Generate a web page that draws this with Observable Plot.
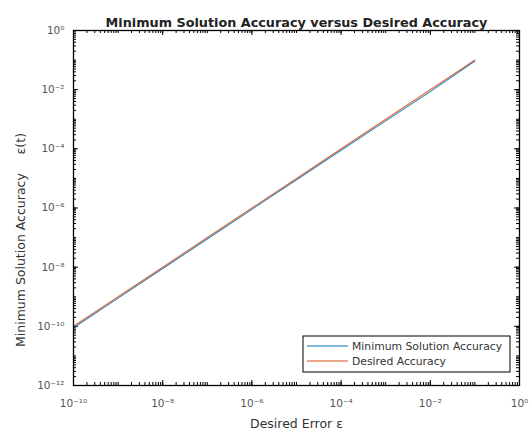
<!DOCTYPE html>
<html>
<head>
<meta charset="utf-8">
<script src="https://cdn.jsdelivr.net/npm/d3@7"></script>
<script src="https://cdn.jsdelivr.net/npm/@observablehq/plot@0.6"></script>
<style>
  body { margin: 0; background: #fff; font-family: "DejaVu Sans", sans-serif; }
</style>
</head>
<body>
<div id="chart"></div>
<script>
// Desired error ε (x) and the two accuracy series (y), one point per decade
const desiredError = [1e-10, 1e-9, 1e-8, 1e-7, 1e-6, 1e-5, 1e-4, 1e-3, 1e-2, 1e-1];
const desiredAccuracy = [1e-10, 1e-9, 1e-8, 1e-7, 1e-6, 1e-5, 1e-4, 1e-3, 1e-2, 1e-1];
const minimumAccuracy = [9.0e-11, 9.0e-10, 9.0e-9, 9.0e-8, 9.0e-7, 9.0e-6, 8.9e-5, 8.8e-4, 8.6e-3, 9.3e-2];

const seriesNames = ["Minimum Solution Accuracy", "Desired Accuracy"];
const seriesColors = ["#0072BD", "#D95319"];

const xTickExps = [-10, -8, -6, -4, -2, 0];
const yTickExps = [-12, -10, -8, -6, -4, -2, 0];

const titleText = "Minimum Solution Accuracy versus Desired Accuracy";
const xLabel = "Desired Error ε";
const yLabel = "Minimum Solution Accuracy\u2003\u2002ε(t)";

const superscript = s => String(s).replace(/-/g, "⁻").replace(/\d/g, d => "⁰¹²³⁴⁵⁶⁷⁸⁹"[d]);
const fmt = v => "10" + superscript(Math.round(Math.log10(v)));

// rows for the line marks
const rows = [];
desiredError.forEach((e, i) => {
  rows.push({e, v: minimumAccuracy[i], s: seriesNames[0]});
});
desiredError.forEach((e, i) => {
  rows.push({e, v: desiredAccuracy[i], s: seriesNames[1]});
});

// minor ticks 1..9 × 10^n inside each axis domain
function logTicks(lo, hi) {
  const out = [];
  for (let n = lo; n < hi; n++) for (let k = 1; k < 10; k++) out.push(k * Math.pow(10, n));
  out.push(Math.pow(10, hi));
  return out;
}
const xMinor = logTicks(-10, 0);
const yMinor = logTicks(-12, 0);
const xMajor = xTickExps.map(p => Math.pow(10, p));
const yMajor = yTickExps.map(p => Math.pow(10, p));

const W = 530, H = 430;
const mL = 73, mR = 11, mT = 30, mB = 45;
const fw = W - mL - mR, fh = H - mT - mB;
const tl = 5;

const chart = Plot.plot({
  width: W,
  height: H,
  marginLeft: mL,
  marginRight: mR,
  marginTop: mT,
  marginBottom: mB,
  style: {fontFamily: "'DejaVu Sans', sans-serif", fontSize: "10px", color: "#333"},
  x: {type: "log", domain: [1e-10, 1]},
  y: {type: "log", domain: [1e-12, 1]},
  color: {domain: seriesNames, range: seriesColors},
  marks: [
    Plot.axisX(xMajor, {
      tickSize: 0, tickPadding: 14, tickFormat: fmt, fill: "#555", fontSize: 10.5, label: null
    }),
    Plot.axisY(yMajor, {
      tickSize: 0, tickPadding: 9, tickFormat: fmt, fill: "#555", fontSize: 10.5, label: null
    }),
    Plot.text([xLabel], {
      frameAnchor: "bottom", textAnchor: "middle", lineAnchor: "middle", dy: 38, fontSize: 12.5, fill: "#333"
    }),
    Plot.text([yLabel], {
      frameAnchor: "left", textAnchor: "middle", rotate: -90, dx: -53, dy: 32, fontSize: 12.5, fill: "#333"
    }),
    // inward ticks on all four sides
    Plot.tickX(xMinor, {x: d => d, insetTop: fh - 3, stroke: "#000"}),
    Plot.tickX(xMinor, {x: d => d, insetBottom: fh - 3, stroke: "#000"}),
    Plot.tickX(xMajor, {x: d => d, insetTop: fh - tl, stroke: "#000"}),
    Plot.tickX(xMajor, {x: d => d, insetBottom: fh - tl, stroke: "#000"}),
    Plot.tickY(yMinor, {y: d => d, insetRight: fw - 3, stroke: "#000"}),
    Plot.tickY(yMinor, {y: d => d, insetLeft: fw - 3, stroke: "#000"}),
    Plot.tickY(yMajor, {y: d => d, insetRight: fw - tl, stroke: "#000"}),
    Plot.tickY(yMajor, {y: d => d, insetLeft: fw - tl, stroke: "#000"}),
    Plot.line(rows, {x: "e", y: "v", z: "s", stroke: "s", strokeWidth: 1.1, strokeOpacity: 0.85}),
    Plot.frame({stroke: "#000", strokeWidth: 1.3}),
    Plot.text([titleText], {
      frameAnchor: "top", dy: -13, fontWeight: "bold", fontSize: 12.8, fill: "#222"
    })
  ]
});

document.getElementById("chart").appendChild(chart);

// legend box in the lower right of the plot area
const svg = d3.select(chart);
const lg = svg.append("g").attr("transform", "translate(303,336)");
lg.append("rect").attr("width", 207).attr("height", 36)
  .attr("fill", "#fff").attr("stroke", "#000").attr("stroke-width", 1);
seriesNames.forEach((name, i) => {
  const y = 10 + i * 15;
  lg.append("line").attr("x1", 4).attr("x2", 45).attr("y1", y).attr("y2", y)
    .attr("stroke", seriesColors[i]).attr("stroke-width", 1.2);
  lg.append("text").attr("x", 49).attr("y", y).attr("dy", "0.35em")
    .attr("text-anchor", "start")
    .attr("font-size", 10.8).attr("fill", "#333").text(name);
});
</script>
</body>
</html>
